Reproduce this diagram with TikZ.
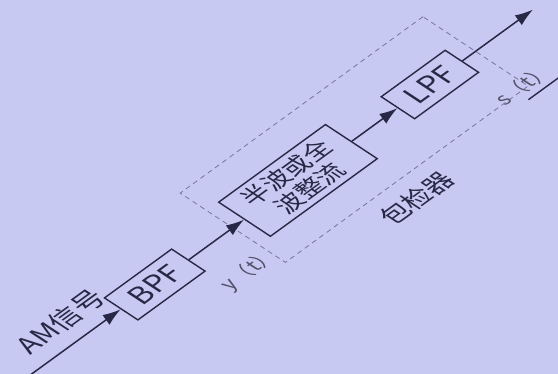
\documentclass[tikz,border=0pt]{standalone}
\usepackage{fontspec}
\newfontfamily\cjkfont{Noto Sans CJK SC}
\usepackage{tikz}
\usetikzlibrary{arrows.meta}
\definecolor{paper}{RGB}{200,201,243}
\definecolor{ink}{RGB}{40,40,70}
\definecolor{dashink}{RGB}{118,118,156}

\begin{document}
\begin{tikzpicture}[x=1pt,y=1pt,
  block/.style={draw=ink,line width=1.4pt,inner sep=0pt,minimum height=40pt,
    text=ink,font=\cjkfont\fontsize{29}{31}\selectfont},
  sig/.style={draw=ink,line width=1.5pt,-{Latex[length=18pt,width=12pt]}},
  lbl/.style={text=ink!80,inner sep=1pt,font=\cjkfont\fontsize{21}{23}\selectfont}]
  % photographed page
  \clip (0,0) rectangle (558,374);
  \fill[paper] (0,0) rectangle (558,374);
  % page is tilted and skewed in the photo
  \begin{scope}[cm={0.809,0.588,-0.835,0.55,(33,1)},transform shape]
    \coordinate (in) at (-6,0);
    \coordinate (out) at (618,0);
    \node[block,minimum width=83pt] (bpf) at (150.5,0) {BPF};
    \node[block,minimum width=132pt,minimum height=62pt,align=center,
      font=\cjkfont\fontsize{25}{28}\selectfont] (rect) at (327.5,0) {半波或全\\波整流};
    \node[block,minimum width=79pt] (lpf) at (490.6,0) {LPF};
    % envelope detector
    \node[draw=dashink,line width=0.8pt,dash pattern=on 5pt off 4pt,
      minimum width=300pt,minimum height=126pt] (det) at (397,0) {};
    \node[text=ink,font=\cjkfont\fontsize{26}{28}\selectfont] (detname) at (381,-90) {包检器};
    % signal path
    \draw[sig] (in) -- (bpf.west);
    \draw[sig] (bpf.east) -- (rect.west);
    \draw[sig] (rect.east) -- (lpf.west);
    \draw[sig] (lpf.east) -- (out);
    \node[text=ink,font=\cjkfont\fontsize{28}{30}\selectfont] (am) at (62,27) {AM信号};
    \node[lbl] (ylbl) at (219,-47) {y（t）};
    \node[lbl] (slbl) at (545,-59) {s（t）};
    % edge of the next figure
    \coordinate (cutA) at (535,-75);
    \coordinate (cutB) at (600,-75);
    \draw[ink,line width=1.4pt] (cutA) -- (cutB);
  \end{scope}
\end{tikzpicture}
\end{document}
